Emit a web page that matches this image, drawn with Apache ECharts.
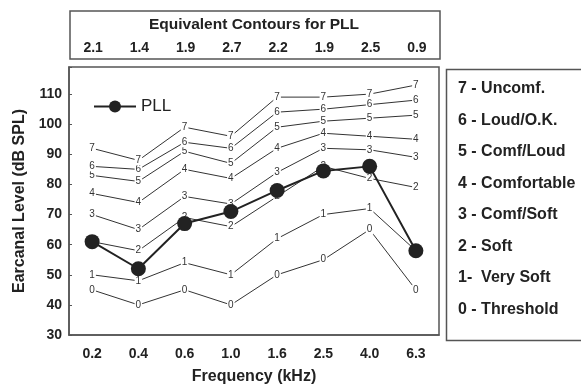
<!DOCTYPE html>
<html>
<head>
<meta charset="utf-8">
<script src="https://cdn.jsdelivr.net/npm/echarts@6/dist/echarts.min.js"></script>
<style>
  html, body { margin: 0; padding: 0; background: #fff; }
  #chart { width: 581px; height: 390px; }
</style>
</head>
<body>
<div id="chart"></div>
<script>
// frequency categories (kHz)
const freqs = ['0.2', '0.4', '0.6', '1.0', '1.6', '2.5', '4.0', '6.3'];
// equivalent contour values shown in the top box
const equivContours = ['2.1', '1.4', '1.9', '2.7', '2.2', '1.9', '2.5', '0.9'];
// loudness contours 0..7 (dB SPL)
const contour0 = [45, 40, 45, 40, 50, 55, 65, 45];
const contour1 = [50, 48, 54, 50, 62, 70, 72, 58];
const contour2 = [61, 58, 69, 66, 76, 86, 82, 79];
const contour3 = [70, 65, 76, 73.5, 84, 92, 91.5, 89];
const contour4 = [77, 74, 85, 82, 92, 97, 96, 95];
const contour5 = [83, 81, 91, 87, 99, 101, 102, 103];
const contour6 = [86, 85, 94, 92, 104, 105, 106.5, 108];
const contour7 = [92, 88, 99, 96, 109, 109, 110, 113];
// PLL measured level
const pll = [61, 52, 67, 71, 78, 84.5, 86, 58];
// legend text for the contour levels
const levelNames = ['7 - Uncomf.', '6 - Loud/O.K.', '5 - Comf/Loud', '4 - Comfortable',
  '3 - Comf/Soft', '2 - Soft', '1-  Very Soft', '0 - Threshold'];

const FONT = '"Liberation Sans", Arial, sans-serif';
const INK = '#222';

const contours = [contour0, contour1, contour2, contour3, contour4, contour5, contour6, contour7];

const chart = echarts.init(document.getElementById('chart'));

const contourSeries = contours.map((vals, i) => ({
  name: String(i),
  type: 'line',
  data: vals,
  z: 2,
  symbol: 'circle',
  symbolSize: 0.1,
  showSymbol: true,
  lineStyle: { color: '#333', width: 1 },
  itemStyle: { color: '#333' },
  label: {
    show: true,
    position: 'inside',
    formatter: String(i),
    fontFamily: FONT,
    fontSize: 10,
    color: '#333',
    backgroundColor: '#fff',
    padding: [0, 1]
  },
  emphasis: { disabled: true },
  animation: false
}));

// level descriptions in the right-hand box
const legendTexts = levelNames.map((t, i) => ({
  type: 'text',
  x: 458,
  y: 89 + i * 31.5,
  style: {
    text: t, fontFamily: FONT, fontSize: 16, fontWeight: 'bold', fill: INK,
    verticalAlign: 'middle'
  }
}));

const option = {
  animation: false,
  backgroundColor: '#fff',
  grid: [
    { left: 69, right: 142, top: 67, bottom: 53, show: true, borderColor: '#555', borderWidth: 1.5 },
    { left: 70, right: 141, top: 11, height: 48, show: true, borderColor: '#555', borderWidth: 1.5 }
  ],
  legend: {
    data: ['PLL'],
    left: 88,
    top: 93,
    itemWidth: 42,
    itemHeight: 15,
    textStyle: { fontFamily: FONT, fontSize: 17, color: INK }
  },
  xAxis: [
    {
      type: 'category',
      data: freqs,
      gridIndex: 0,
      name: 'Frequency (kHz)',
      nameLocation: 'middle',
      nameGap: 34,
      nameTextStyle: { fontFamily: FONT, fontSize: 16, fontWeight: 'bold', color: INK },
      axisLine: { lineStyle: { color: '#555', width: 1.5 } },
      axisTick: { inside: true, length: 3, alignWithLabel: true, lineStyle: { color: '#555' } },
      axisLabel: { fontFamily: FONT, fontSize: 14, fontWeight: 'bold', color: INK, margin: 12 }
    },
    {
      type: 'category',
      data: equivContours,
      gridIndex: 1,
      axisLine: { show: false },
      axisTick: { show: false },
      axisLabel: { inside: true, margin: 4, fontFamily: FONT, fontSize: 14, fontWeight: 'bold', color: INK }
    }
  ],
  yAxis: [
    {
      type: 'value',
      gridIndex: 0,
      min: 30,
      max: 119,
      interval: 10,
      name: 'Earcanal Level (dB SPL)',
      nameLocation: 'middle',
      nameGap: 37,
      nameTextStyle: { fontFamily: FONT, fontSize: 16, fontWeight: 'bold', color: INK },
      splitLine: { show: false },
      axisLine: { show: true, lineStyle: { color: '#555', width: 1.5 } },
      axisTick: { show: true, inside: true, length: 3, lineStyle: { color: '#555' } },
      axisLabel: {
        fontFamily: FONT, fontSize: 14, fontWeight: 'bold', color: INK, margin: 7,
        formatter: v => (v % 10 === 0 ? String(v) : '')
      }
    },
    { type: 'value', gridIndex: 1, show: false }
  ],
  graphic: [
    {
      type: 'text',
      x: 254,
      y: 25,
      style: {
        text: 'Equivalent Contours for PLL', fontFamily: FONT, fontSize: 15.5, fontWeight: 'bold', fill: INK,
        align: 'center', verticalAlign: 'middle'
      }
    },
    {
      type: 'rect',
      left: 444,
      top: 67,
      shape: { width: 136, height: 271 },
      style: { fill: 'none', stroke: '#555', lineWidth: 1.5 }
    }
  ].concat(legendTexts),
  series: contourSeries.concat([
    {
      name: 'PLL',
      type: 'line',
      data: pll,
      z: 5,
      symbol: 'circle',
      symbolSize: 15,
      lineStyle: { color: INK, width: 2 },
      itemStyle: { color: INK },
      emphasis: { disabled: true }
    }
  ])
};

chart.setOption(option);
</script>
</body>
</html>
